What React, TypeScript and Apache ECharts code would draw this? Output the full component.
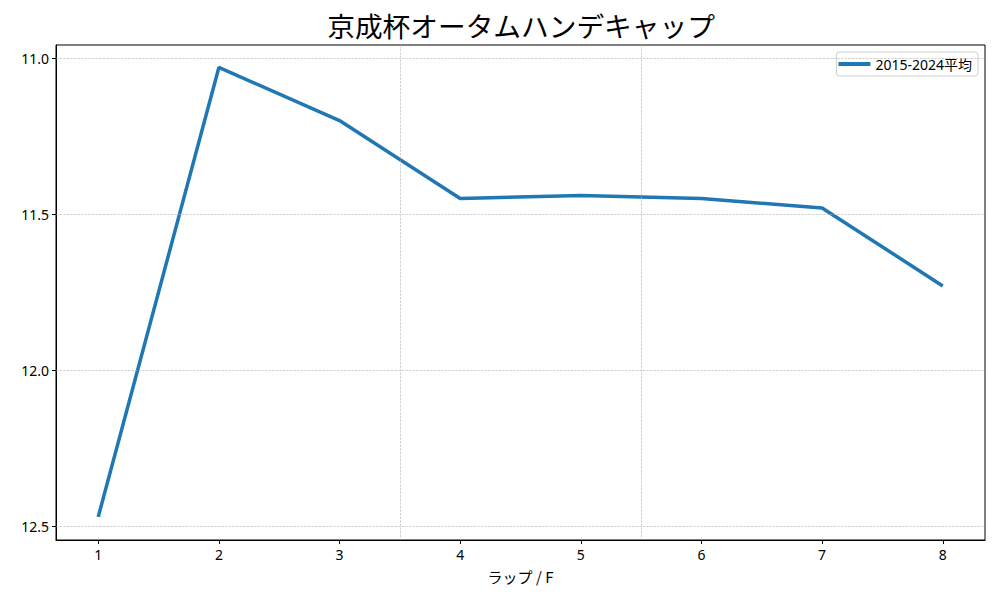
import { useEffect, useRef } from "react";
import * as echarts from "echarts";

const laps = [1, 2, 3, 4, 5, 6, 7, 8];
const avgTimes = [12.47, 11.03, 11.2, 11.45, 11.44, 11.45, 11.48, 11.73];
const yTicks = [11.0, 11.5, 12.0, 12.5];
const xGridLines = [3.5, 5.5];
const seriesName = "2015-2024平均";
const titleText = "京成杯オータムハンデキャップ";
const xName = "ラップ / F";

const font = "'Noto Sans CJK JP', 'Noto Sans', sans-serif";
const latinFirst = "'Noto Sans', 'Noto Sans CJK JP', sans-serif";

const App: React.FC = () => {
  const chartRef = useRef<HTMLDivElement>(null);

  useEffect(() => {
    if (!chartRef.current) return;
    const chart = echarts.init(chartRef.current, undefined, { renderer: "svg" });

    const gridLine = { type: "dashed" as const, color: "#b0b0b0", width: 0.6 };

    chart.setOption({
      animation: false,
      textStyle: { fontFamily: font },
      title: {
        text: titleText,
        left: 516,
        top: 6,
        textAlign: "center",
        textStyle: { fontSize: 27.7, fontWeight: "normal", color: "#000", fontFamily: font },
      },
      legend: {
        right: 22,
        top: 52,
        itemWidth: 32,
        itemHeight: 4,
        itemGap: 8,
        icon: "rect",
        padding: [5, 6, 5, 2],
        borderColor: "#d0d0d0",
        borderWidth: 1,
        borderRadius: 3,
        textStyle: { fontSize: 14, color: "#000", fontFamily: latinFirst },
        data: [seriesName],
      },
      grid: {
        left: 56,
        right: 15,
        top: 45,
        bottom: 60,
        show: true,
        borderColor: "#000",
        borderWidth: 1,
      },
      xAxis: {
        type: "value",
        min: 0.65,
        max: 8.35,
        name: xName,
        nameLocation: "middle",
        nameGap: 29,
        nameTextStyle: { fontSize: 15, color: "#000", fontFamily: font },
        axisLine: { show: true, lineStyle: { color: "#000" } },
        axisTick: { show: true, length: 4, customValues: laps, lineStyle: { color: "#000" } },
        axisLabel: {
          customValues: laps,
          fontSize: 14,
          color: "#000",
          margin: 7,
          fontFamily: latinFirst,
        },
        splitLine: { show: false },
      },
      yAxis: {
        type: "value",
        inverse: true,
        min: 10.958,
        max: 12.544,
        axisLine: { show: true, lineStyle: { color: "#000" } },
        axisTick: { show: true, length: 4, customValues: yTicks, lineStyle: { color: "#000" } },
        axisLabel: {
          customValues: yTicks,
          fontSize: 14,
          color: "#000",
          margin: 7,
          fontFamily: latinFirst,
          formatter: (v: number) => v.toFixed(1),
        },
        splitLine: { show: false },
      },
      series: [
        {
          name: "grid",
          type: "line",
          data: [],
          silent: true,
          z: 1,
          markLine: {
            silent: true,
            symbol: "none",
            label: { show: false },
            lineStyle: gridLine,
            data: [
              ...xGridLines.map((v) => ({ xAxis: v })),
              ...yTicks.map((v) => ({ yAxis: v })),
            ],
          },
        },
        {
          name: seriesName,
          type: "line",
          z: 3,
          data: laps.map((x, i) => [x, avgTimes[i]]),
          showSymbol: false,
          symbol: "none",
          lineStyle: { color: "#1f77b4", width: 3.5 },
          itemStyle: { color: "#1f77b4" },
        },
      ],
    });

    return () => {
      chart.dispose();
    };
  }, []);

  return <div ref={chartRef} style={{ width: "1000px", height: "600px", margin: -8 }} />;
};

export default App;
